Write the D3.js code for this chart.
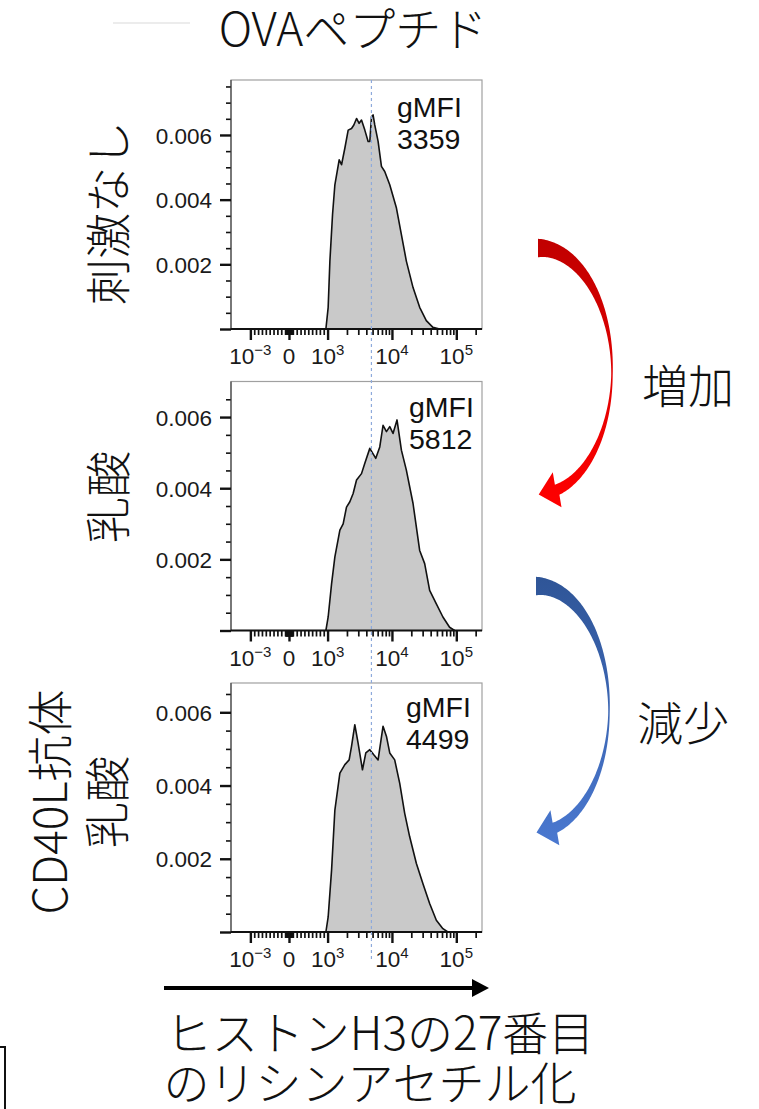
<!DOCTYPE html>
<html><head><meta charset="utf-8">
<script src="https://cdn.jsdelivr.net/npm/d3@7"></script>
<style>body{margin:0;background:#fff}</style>
</head><body><svg id="c" width="759" height="1109"></svg>
<script>
// ---------- data ----------
const titleText = "OVAペプチド";
const rowLabels = [["刺激なし"], ["乳酸"], ["CD40L抗体", "乳酸"]];
const gmfiValues = [3359, 5812, 4499];
const yMaxes = [0.0077, 0.0070, 0.0068];
const yTickValues = [0, 0.002, 0.004, 0.006];
const yMinorStep = 0.0005;
const xTickValues = [-1000, 0, 1000, 10000, 100000];
const xTickLabels = [["10", "−3"], ["0", ""], ["10", "3"], ["10", "4"], ["10", "5"]];
const xDomain = [-2000, 251000];
const refLineValue = 4800;
const changeLabels = ["増加", "減少"];
const axisTitle = ["ヒストンH3の27番目", "のリシンアセチル化"];

const hist1X = [956, 1021, 1086, 1194, 1298, 1514, 1648, 1854, 2089, 2355, 2559, 2818, 3090, 3366, 3790, 4266, 4529, 4808, 5093, 5408, 6095, 6871, 7727, 9247, 11750, 14030, 16750, 21280, 26980, 34200, 43350, 55080];
const hist1Y = [0, 0.00067, 0.0021, 0.00354, 0.00446, 0.00523, 0.00508, 0.00559, 0.00615, 0.0062, 0.00631, 0.00651, 0.00636, 0.00646, 0.00615, 0.0058, 0.0058, 0.00656, 0.00662, 0.00631, 0.0058, 0.00503, 0.00487, 0.00446, 0.00374, 0.00292, 0.0021, 0.00128, 0.00067, 0.00026, 0.00005, 0];
const hist2X = [956, 1021, 1153, 1298, 1552, 1746, 1968, 2218, 2495, 2818, 3366, 3790, 4529, 5610, 6471, 7278, 8222, 9247, 10400, 11990, 14030, 16750, 21280, 26980, 32270, 38550, 48980, 61970, 78700, 94200];
const hist2Y = [0, 0.00038, 0.00131, 0.00207, 0.00282, 0.003, 0.00347, 0.00362, 0.00385, 0.00423, 0.00441, 0.0047, 0.00512, 0.00484, 0.00516, 0.00577, 0.00559, 0.00573, 0.00554, 0.00592, 0.00507, 0.00451, 0.00357, 0.00225, 0.00188, 0.00113, 0.00075, 0.00038, 0.00009, 0];
const hist3X = [956, 1021, 1153, 1298, 1552, 1854, 2163, 2355, 2649, 2979, 3483, 3926, 4529, 5224, 6095, 7278, 8222, 9247, 11040, 13220, 15790, 18880, 23990, 30340, 38550, 48980, 61970, 74100];
const hist3Y = [0, 0.00041, 0.00169, 0.00333, 0.00434, 0.00457, 0.0047, 0.00507, 0.00566, 0.00516, 0.00443, 0.00489, 0.00498, 0.00484, 0.0047, 0.00562, 0.00534, 0.00489, 0.0047, 0.00406, 0.00324, 0.0026, 0.00187, 0.00132, 0.00078, 0.00032, 0.00009, 0];

// ---------- layout ----------
const histXs = [hist1X, hist2X, hist3X];
const histYs = [hist1Y, hist2Y, hist3Y];
const plotLeft = 231, plotW = 251, plotH = 249;
const panelTops = [80, 381.5, 683];
const gmfiDx = [166, 178, 175];
const gmfiDy = [37, 35, 34];
const JP = "'Noto Sans CJK JP', 'Noto Sans', sans-serif";
const LAT = "'Liberation Sans', Arial, Helvetica, sans-serif";

const svg = d3.select("#c");
const defs = svg.append("defs");

// biexponential-like transform: linear below 10^3, log above
const LIN = 0.6;
function T(v) {
  const a = Math.abs(v);
  if (a <= 1000) return v / 1000 * LIN;
  return Math.sign(v) * (LIN + Math.log10(a) - 3);
}
const xLin = d3.scaleLinear().domain(xDomain.map(T)).range([0, plotW]);
const x = v => xLin(T(v));

// minor x ticks
const minorX = [];
for (let m = 1; m <= 9; m++) { minorX.push(m * 10, -m * 10, m * 100, -m * 100); }
for (const k of [3, 4, 5]) for (let m = 2; m <= 9; m++) { const v = m * Math.pow(10, k); if (v < xDomain[1]) minorX.push(v); }

// top decorative line
svg.append("line").attr("x1", 113).attr("x2", 190).attr("y1", 23).attr("y2", 23)
  .attr("stroke", "#d9d9d9").attr("stroke-width", 1);

// title
svg.append("text").attr("x", 353).attr("y", 46).attr("text-anchor", "middle")
  .attr("font-family", JP).attr("font-weight", 300).attr("font-size", 46).attr("fill", "#111")
  .text(titleText);

panelTops.forEach((top, i) => {
  const g = svg.append("g").attr("transform", `translate(${plotLeft},${top})`);
  const y = d3.scaleLinear().domain([0, yMaxes[i]]).range([plotH, 0]);
  const data = histXs[i].map((xv, j) => [xv, histYs[i][j]]);

  // frame
  g.append("rect").attr("x", 0).attr("y", 0).attr("width", plotW).attr("height", plotH)
    .attr("fill", "none").attr("stroke", "#a0a0a0").attr("stroke-width", 1.2);

  // histogram
  g.append("path").datum(data)
    .attr("d", d3.area().x(d => x(d[0])).y0(y(0)).y1(d => y(d[1])))
    .attr("fill", "#c9c9c9");
  g.append("path").datum(data)
    .attr("d", d3.line().x(d => x(d[0])).y(d => y(d[1])))
    .attr("fill", "none").attr("stroke", "#111").attr("stroke-width", 1.6).attr("stroke-linejoin", "round");

  // y axis minor
  const minorY = d3.range(yMinorStep, yMaxes[i], yMinorStep).filter(v => !yTickValues.some(t => Math.abs(t - v) < 1e-9));
  const yMin = g.append("g").call(d3.axisLeft(y).tickValues(minorY).tickSize(5).tickFormat(""));
  yMin.select(".domain").remove();
  yMin.selectAll("line").attr("stroke", "#111").attr("stroke-width", 1.6);
  // y axis major
  const yMaj = g.append("g").call(d3.axisLeft(y).tickValues(yTickValues).tickSize(11).tickPadding(8)
    .tickFormat(d => d === 0 ? "" : d3.format(".3f")(d)));
  yMaj.select(".domain").attr("stroke", "#444").attr("stroke-width", 1.2).attr("d", `M0,0V${plotH}`);
  yMaj.selectAll("line").attr("stroke", "#111").attr("stroke-width", 2.4);
  yMaj.selectAll("text").attr("font-family", LAT).attr("font-size", 22.5).attr("fill", "#1a1a1a").attr("dy", "0.36em");

  // x axis
  const xg = g.append("g").attr("transform", `translate(0,${plotH})`);
  const xMin = xg.append("g").call(d3.axisBottom(xLin).tickValues(minorX.map(T)).tickSize(6).tickFormat(""));
  xMin.select(".domain").remove();
  xMin.selectAll("line").attr("stroke", "#111").attr("stroke-width", 1.7);
  const xMaj = xg.append("g").call(d3.axisBottom(xLin).tickValues(xTickValues.map(T)).tickSize(11).tickFormat(""));
  xMaj.select(".domain").attr("stroke", "#111").attr("stroke-width", 1.8).attr("d", `M0,0H${plotW}`);
  xMaj.selectAll("line").attr("stroke", "#111").attr("stroke-width", 2.4);

  // x tick labels with superscripts
  xTickValues.forEach((v, j) => {
    const t = xg.append("text").attr("x", x(v)).attr("y", 35).attr("text-anchor", "middle")
      .attr("font-family", LAT).attr("font-size", 22.5).attr("fill", "#1a1a1a");
    t.append("tspan").text(xTickLabels[j][0]);
    if (xTickLabels[j][1]) t.append("tspan").attr("font-size", 15).attr("dy", -9).text(xTickLabels[j][1]);
  });

  // gMFI label
  const lab = g.append("text").attr("font-family", LAT).attr("font-size", 28.5).attr("fill", "#111");
  lab.append("tspan").attr("x", gmfiDx[i]).attr("y", gmfiDy[i]).text("gMFI");
  lab.append("tspan").attr("x", gmfiDx[i]).attr("y", gmfiDy[i] + 32).text(gmfiValues[i]);
});

// reference dashed line through all panels
svg.append("line")
  .attr("x1", plotLeft + x(refLineValue)).attr("x2", plotLeft + x(refLineValue))
  .attr("y1", panelTops[0]).attr("y2", 962)
  .attr("stroke", "#8eaadb").attr("stroke-width", 1.2).attr("stroke-dasharray", "3,3");

// row labels (vertical)
const rowCenters = [213, 497, 802];
rowLabels.forEach((lines, i) => {
  const n = lines.length;
  lines.forEach((s, k) => {
    const cx = n === 1 ? 105 : (k === 0 ? 47 : 104);
    svg.append("text").attr("transform", `translate(${cx},${rowCenters[i]}) rotate(-90)`)
      .attr("text-anchor", "middle").attr("dominant-baseline", "central")
      .attr("font-family", JP).attr("font-weight", 300).attr("font-size", 46).attr("fill", "#111")
      .text(s);
  });
});

// curved arrows
function gradient(id, c1, c2) {
  const lg = defs.append("linearGradient").attr("id", id).attr("x1", 0).attr("y1", 0).attr("x2", 0).attr("y2", 1);
  lg.append("stop").attr("offset", "0%").attr("stop-color", c1);
  lg.append("stop").attr("offset", "100%").attr("stop-color", c2);
}
gradient("gRed", "#c00000", "#ff0000");
gradient("gBlue", "#2f5597", "#4a78d0");

function curvedArrow(cx, cy, rx, ry, fill) {
  const thEnd = 75, thMid = 2, wS = 18.5, wM = 1.5, wE = 11, headHalf = 18, headLen = 19, headRot = 10;
  const outer = [], inner = [];
  let P, Tn, N;
  for (let th = -90; th <= thEnd; th += 1) {
    const r = th * Math.PI / 180;
    P = [cx + rx * Math.cos(r), cy + ry * Math.sin(r)];
    const tx = -rx * Math.sin(r), ty = ry * Math.cos(r), L = Math.hypot(tx, ty);
    Tn = [tx / L, ty / L];
    N = [Tn[1], -Tn[0]];
    const w = th <= thMid ? wM + (wS - wM) * Math.pow((thMid - th) / (thMid + 90), 1.4)
                          : wM + (wE - wM) * Math.pow((th - thMid) / (thEnd - thMid), 1.3);
    outer.push([P[0] + N[0] * w / 2, P[1] + N[1] * w / 2]);
    inner.push([P[0] - N[0] * w / 2, P[1] - N[1] * w / 2]);
  }
  const a = Math.atan2(Tn[1], Tn[0]) + headRot * Math.PI / 180;
  const D = [Math.cos(a), Math.sin(a)], M = [D[1], -D[0]];
  const head = [
    [P[0] + M[0] * headHalf, P[1] + M[1] * headHalf],
    [P[0] + D[0] * headLen, P[1] + D[1] * headLen],
    [P[0] - M[0] * headHalf, P[1] - M[1] * headHalf]
  ];
  const pts = outer.concat(head, inner.reverse());
  svg.append("path").attr("d", d3.line()(pts) + "Z").attr("fill", fill);
}
curvedArrow(538, 371, 74, 123, "url(#gRed)");
curvedArrow(536, 709, 73, 123, "url(#gBlue)");

svg.append("text").attr("x", 688).attr("y", 383).attr("text-anchor", "middle").attr("dominant-baseline", "central")
  .attr("font-family", JP).attr("font-weight", 300).attr("font-size", 46).attr("fill", "#111").text(changeLabels[0]);
svg.append("text").attr("x", 683).attr("y", 720).attr("text-anchor", "middle").attr("dominant-baseline", "central")
  .attr("font-family", JP).attr("font-weight", 300).attr("font-size", 46).attr("fill", "#111").text(changeLabels[1]);

// bottom arrow
svg.append("line").attr("x1", 164).attr("x2", 476).attr("y1", 988).attr("y2", 988)
  .attr("stroke", "#000").attr("stroke-width", 4);
svg.append("path").attr("d", d3.line()([[472, 979], [489, 988], [472, 997]]) + "Z").attr("fill", "#000");

// bottom axis title
axisTitle.forEach((s, k) => {
  svg.append("text").attr("x", k === 0 ? 380 : 370).attr("y", k === 0 ? 1050 : 1100).attr("text-anchor", "middle")
    .attr("font-family", JP).attr("font-weight", 300).attr("font-size", 46).attr("fill", "#111").text(s);
});

// small bracket fragment bottom-left
svg.append("path").attr("d", "M0,1047H5V1109").attr("fill", "none").attr("stroke", "#111").attr("stroke-width", 2);
</script>
</body></html>
